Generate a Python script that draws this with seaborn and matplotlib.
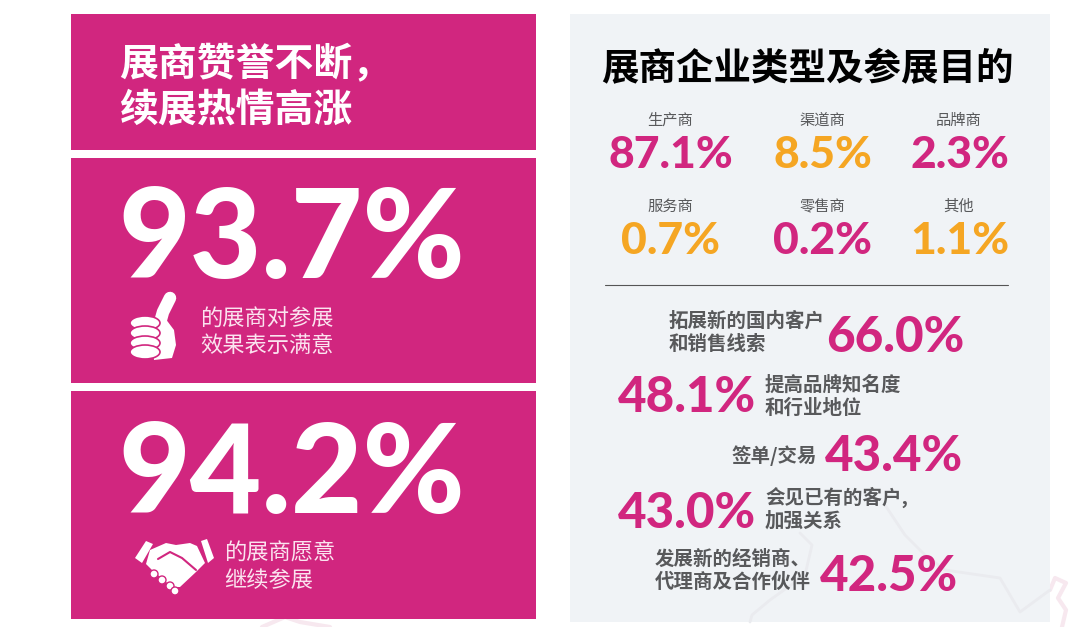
import matplotlib
import seaborn as sns

matplotlib.use('Agg')
import matplotlib.pyplot as plt
from matplotlib.patches import Circle, Ellipse, Polygon, Rectangle

# --------------------------------------------------------------------
# data

left_title = ["展商赞誉不断，", "续展热情高涨"]
right_title = "展商企业类型及参展目的"

satisfied = 93.7
satisfied_label = ["的展商对参展", "效果表示满意"]
return_rate = 94.2
return_label = ["的展商愿意", "继续参展"]

types = ["生产商", "渠道商", "品牌商", "服务商", "零售商", "其他"]
type_values = [87.1, 8.5, 2.3, 0.7, 0.2, 1.1]
type_colors = ["pink", "orange", "pink", "orange", "pink", "orange"]

goals = ["拓展新的国内客户\n和销售线索", "提高品牌知名度\n和行业地位", "签单/交易",
         "会见已有的客户,\n加强关系", "发展新的经销商、\n代理商及合作伙伴"]
goal_values = [66.0, 48.1, 43.4, 43.0, 42.5]

# --------------------------------------------------------------------

sns.set_theme(style="white")
plt.rcParams['font.family'] = ['Noto Sans CJK SC', 'DejaVu Sans']

PINK = "#d1267f"
ORANGE = "#f5a623"
GREY = "#58595b"
colors = {"pink": PINK, "orange": ORANGE}
NUM = ['Lato', 'DejaVu Sans']

fig = plt.figure(figsize=(10.8, 6.27), dpi=100)
ax = fig.add_axes([0, 0, 1, 1])
ax.set_xlim(0, 1080)
ax.set_ylim(627, 0)
ax.axis("off")

# faint map outline behind the panels
ax.plot([262, 285, 300, 330], [627, 617, 622, 627], color="#f7e8ef", lw=3, zorder=1)
ax.plot([1050, 1055, 1066, 1058, 1066, 1062], [590, 578, 583, 598, 610, 627],
        color="#f7e8ef", lw=3, zorder=1)

# panels
for y0, y1 in [(14, 150), (158, 383), (391, 619)]:
    ax.add_patch(Rectangle((71, y0), 465, y1 - y0, color=PINK, lw=0, zorder=2))
ax.add_patch(Rectangle((570, 14), 480, 608, color="#f0f3f6", lw=0, zorder=2))

# faint outline inside the grey panel
ax.plot([800, 812, 805, 770, 752, 750], [533, 545, 575, 600, 615, 622], color="#eaebef", lw=2, zorder=3)
ax.plot([885, 905, 925, 945, 1000, 1020, 1050], [505, 535, 555, 570, 578, 612, 590], color="#eaebef", lw=2, zorder=3)

# left titles
for line, y in zip(left_title, [76, 122]):
    ax.text(119, y, line, color="white", fontsize=28, fontweight="bold", va="baseline", zorder=5)

# headline numbers
ax.text(118, 278, f"{satisfied}%", family=NUM, color="white", fontsize=89, fontweight="black", va="baseline", zorder=5)
ax.text(118, 513, f"{return_rate}%", family=NUM, color="white", fontsize=89, fontweight="black", va="baseline", zorder=5)

for line, y in zip(satisfied_label, [326, 352]):
    ax.text(200, y, line, color="#fbe3ef", fontsize=16, va="baseline", zorder=5)
for line, y in zip(return_label, [560, 587]):
    ax.text(224, y, line, color="#fbe3ef", fontsize=16, va="baseline", zorder=5)

# thumb up icon
ax.plot([170, 163, 158], [298, 312, 330], color="white", lw=9, solid_capstyle="round", zorder=5)
ax.add_patch(Polygon([(150, 322), (165, 318), (174, 330), (176, 345), (172, 358), (154, 360)],
                     color="white", lw=0, zorder=5))
for y in [323, 333, 343, 352]:
    ax.add_patch(Ellipse((145, y), 30, 14, fc="white", ec=PINK, lw=1.2, zorder=6))

# handshake icon
ax.add_patch(Polygon([(135, 558), (146, 541), (153, 544), (142, 563)], color="white", lw=0, zorder=5))
ax.add_patch(Polygon([(201, 541), (207, 539), (214, 558), (208, 563)], color="white", lw=0, zorder=5))
ax.add_patch(Polygon([(150, 550), (166, 543), (176, 545), (190, 543), (197, 546), (205, 563), (196, 572),
                      (180, 587), (172, 587), (152, 570), (146, 564)], color="white", lw=0, zorder=5))
ax.plot([158, 170, 182, 196], [559, 552, 558, 570], color=PINK, lw=1.5, zorder=6)
for x, y in [(154, 574), (162, 580), (170, 586), (175, 591)]:
    ax.add_patch(Circle((x, y), 4, fc="white", ec=PINK, lw=1, zorder=7))

# right side
ax.text(807, 80, right_title, color="black", fontsize=27, fontweight="bold", ha="center", va="baseline", zorder=5)

type_x = [670, 822, 959, 670, 822, 959]
label_y = [125, 125, 125, 211, 211, 211]
num_y = [168, 168, 168, 254, 254, 254]
for i in range(len(types)):
    ax.text(type_x[i], label_y[i], types[i], color=GREY, fontsize=11, fontweight="medium",
            ha="center", va="baseline", zorder=5)
    ax.text(type_x[i] + 1, num_y[i], f"{type_values[i]}%", family=NUM, color=colors[type_colors[i]],
            fontsize=32, fontweight="black", ha="center", va="baseline", zorder=5)

ax.plot([605, 1008], [285, 285], color="#555555", lw=0.8, zorder=5)

# goals: number on the right for odd rows, on the left for even rows
goal_num_x = [826, 618, 825, 618, 820]
goal_num_y = [352, 412, 471, 528, 591]
goal_text_x = [669, 765, 731, 765, 655]
goal_text_y = [327, 391, 462, 504, 565]
for i in range(len(goals)):
    ax.text(goal_num_x[i], goal_num_y[i], f"{goal_values[i]:.1f}%", family=NUM, color=PINK,
            fontsize=35.5, fontweight="black", va="baseline", zorder=5)
    for j, line in enumerate(goals[i].split("\n")):
        ax.text(goal_text_x[i], goal_text_y[i] + j * 23, line, color=GREY, fontsize=14, fontweight="bold",
                va="baseline", zorder=5)

fig.savefig("out.png", dpi=100)
